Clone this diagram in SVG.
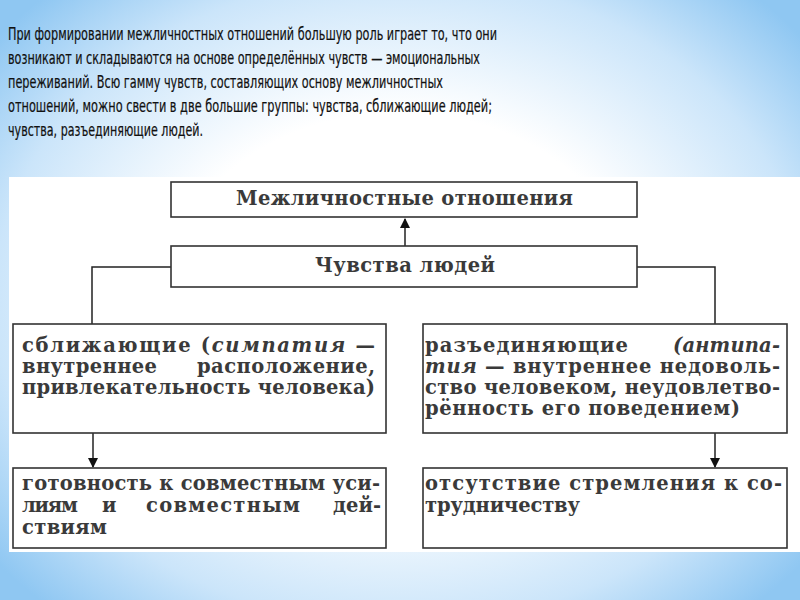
<svg xmlns="http://www.w3.org/2000/svg" width="800" height="600" viewBox="0 0 800 600">
<defs>
<radialGradient id="bg" cx="400" cy="300" r="520" gradientUnits="userSpaceOnUse" gradientTransform="translate(400 300) scale(1 0.8) translate(-400 -300)">
<stop offset="0" stop-color="#ffffff"/>
<stop offset="0.45" stop-color="#ffffff"/>
<stop offset="0.78" stop-color="#cbe5fa"/>
<stop offset="1" stop-color="#8fc7f2"/>
</radialGradient>
<marker id="ah" viewBox="0 0 10 10" refX="9" refY="5" markerWidth="10" markerHeight="10" markerUnits="userSpaceOnUse" orient="auto">
<path d="M0,0 L10,5 L0,10 z" fill="#111"/>
</marker>
<style>
.p{font-family:"DejaVu Sans Condensed","Liberation Sans Narrow","Liberation Sans",sans-serif;font-size:17.5px;fill:#111;stroke:#111;stroke-width:0.2}
.box{fill:#fff;stroke:#333;stroke-width:1.6}
.t{font-family:"DejaVu Serif","Liberation Serif",serif;font-weight:bold;font-size:19.5px;fill:#3a3a3a}
.i{font-style:italic}
.c{fill:none;stroke:#222;stroke-width:1.5}
</style>
</defs>
<rect x="0" y="0" width="800" height="600" fill="url(#bg)"/>
<g id="intro">
<text class="p" x="8" y="40" textLength="489" lengthAdjust="spacingAndGlyphs">При формировании межличностных отношений большую роль играет то, что они</text>
<text class="p" x="8" y="64" textLength="472" lengthAdjust="spacingAndGlyphs">возникают и складываются на основе определённых чувств — эмоциональных</text>
<text class="p" x="8" y="88" textLength="435" lengthAdjust="spacingAndGlyphs">переживаний. Всю гамму чувств, составляющих основу межличностных</text>
<text class="p" x="8" y="112" textLength="484" lengthAdjust="spacingAndGlyphs">отношений, можно свести в две большие группы: чувства, сближающие людей;</text>
<text class="p" x="8" y="136" textLength="195" lengthAdjust="spacingAndGlyphs">чувства, разъединяющие людей.</text>
</g>
<rect x="9" y="177" width="791" height="375" fill="#fff"/>
<g id="connectors">
<line class="c" x1="405" y1="246" x2="405" y2="219" marker-end="url(#ah)"/>
<polyline class="c" points="171,267 92,267 92,324"/>
<polyline class="c" points="637,267 715,267 715,324"/>
<line class="c" x1="93" y1="433" x2="93" y2="467" marker-end="url(#ah)"/>
<line class="c" x1="715" y1="433" x2="715" y2="467" marker-end="url(#ah)"/>
</g>
<g id="n-relations">
<rect class="box" x="171" y="182" width="466" height="35"/>
<text class="t" x="236" y="205" textLength="337" lengthAdjust="spacing">Межличностные отношения</text>
</g>
<g id="n-feelings">
<rect class="box" x="171" y="246" width="466" height="41"/>
<text class="t" x="315" y="272" textLength="180" lengthAdjust="spacing">Чувства людей</text>
</g>
<g id="n-uniting">
<rect class="box" x="13" y="324" width="373" height="109"/>
<text class="t" x="22" y="352" textLength="353" lengthAdjust="spacing">сближающие (<tspan class="i">симпатия</tspan> —</text>
<text class="t" x="22" y="373" textLength="135" lengthAdjust="spacing">внутреннее</text>
<text class="t" x="197" y="373" textLength="178" lengthAdjust="spacing">расположение,</text>
<text class="t" x="22" y="394" textLength="353" lengthAdjust="spacing">привлекательность человека)</text>
</g>
<g id="n-dividing">
<rect class="box" x="423" y="324" width="364" height="109"/>
<text class="t" x="425" y="352" textLength="203" lengthAdjust="spacing">разъединяющие</text>
<text class="t i" x="673" y="352" textLength="107" lengthAdjust="spacing">(антипа-</text>
<text class="t" x="425" y="373" textLength="355" lengthAdjust="spacing"><tspan class="i">тия</tspan> — внутреннее недоволь-</text>
<text class="t" x="425" y="394" textLength="355" lengthAdjust="spacing">ство человеком, неудовлетво-</text>
<text class="t" x="425" y="415" textLength="315" lengthAdjust="spacing">рённость его поведением)</text>
</g>
<g id="n-readiness">
<rect class="box" x="13" y="468" width="373" height="80"/>
<text class="t" x="22" y="490" textLength="358" lengthAdjust="spacing">готовность к совместным уси-</text>
<text class="t" x="22" y="512" textLength="56" lengthAdjust="spacing">лиям</text>
<text class="t" x="102" y="512">и</text>
<text class="t" x="146" y="512" textLength="154" lengthAdjust="spacing">совместным</text>
<text class="t" x="381" y="512" text-anchor="end">дей-</text>
<text class="t" x="22" y="534" textLength="85" lengthAdjust="spacing">ствиям</text>
</g>
<g id="n-absence">
<rect class="box" x="423" y="468" width="364" height="80"/>
<text class="t" x="425" y="490" textLength="357" lengthAdjust="spacing">отсутствие стремления к со-</text>
<text class="t" x="425" y="512" textLength="155" lengthAdjust="spacing">трудничеству</text>
</g>
</svg>
